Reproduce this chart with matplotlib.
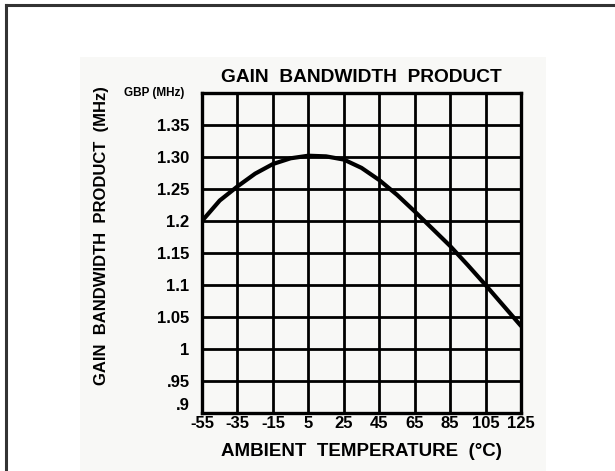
import numpy as np
import matplotlib.pyplot as plt
from matplotlib.lines import Line2D
from matplotlib.patches import Rectangle


temps = [-55, -45, -35, -25, -15, -5, 5, 15, 25, 35, 45, 55, 65, 75, 85, 95, 105, 115, 125]
gbp = [1.200, 1.232, 1.254, 1.274, 1.289, 1.298, 1.302, 1.301, 1.296, 1.283,
       1.264, 1.241, 1.215, 1.188, 1.161, 1.131, 1.100, 1.068, 1.036]

x_ticks = [-55, -35, -15, 5, 25, 45, 65, 85, 105, 125]
y_ticks = [0.90, 0.95, 1.00, 1.05, 1.10, 1.15, 1.20, 1.25, 1.30, 1.35, 1.40]
y_tick_labels = [".9", ".95", "1", "1.05", "1.1", "1.15", "1.2", "1.25", "1.30", "1.35", ""]

title = "GAIN  BANDWIDTH  PRODUCT"
x_label = "AMBIENT  TEMPERATURE  (°C)"
y_label = "GAIN  BANDWIDTH  PRODUCT  (MHz)"
unit_label = "GBP (MHz)"

plt.rcParams["font.family"] = ["Liberation Sans", "DejaVu Sans"]
plt.rcParams["font.weight"] = "bold"

W, H = 615, 471
fig = plt.figure(figsize=(W / 100, H / 100), dpi=100)
fig.patch.set_facecolor("white")

bg = "#f8f8f6"
# grey panel behind the chart
fig.add_artist(Rectangle((80 / W, 0), (546 - 80) / W, 1 - 57 / H,
                         transform=fig.transFigure, facecolor=bg, edgecolor="none", zorder=0))
# outer frame (top and left edges only are in view)
fig.add_artist(Line2D([6 / W, 1], [1 - 5 / H, 1 - 5 / H], transform=fig.transFigure,
                      color="#333333", lw=2.2))
fig.add_artist(Line2D([6 / W, 6 / W], [0, 1 - 5 / H], transform=fig.transFigure,
                      color="#333333", lw=2.2))

ax = fig.add_axes([202 / W, 1 - 413 / H, (521 - 202) / W, (413 - 93) / H])
ax.set_facecolor(bg)

ax.plot(temps, gbp, color="black", lw=3.0, solid_capstyle="round", zorder=3)

ax.set_xlim(-55, 125)
ax.set_ylim(0.90, 1.40)
ax.set_xticks(x_ticks)
ax.set_yticks(y_ticks)
ax.set_xticklabels([str(t) for t in x_ticks], fontsize=12, fontweight="bold")
ax.set_yticklabels(y_tick_labels, fontsize=12, fontweight="bold")
ax.get_yticklabels()[0].set_verticalalignment("bottom")
ax.tick_params(length=0, pad=2)
ax.tick_params(axis="y", pad=9)
ax.grid(True, color="black", lw=2.0)
for s in ax.spines.values():
    s.set_linewidth(2.4)

ax.set_title(title, fontsize=13.8, fontweight="bold", pad=8)
ax.set_xlabel(x_label, fontsize=13.5, fontweight="bold", labelpad=9)

fig.text(102 / W, 1 - 236 / H, y_label, rotation=90, ha="center", va="center",
         fontsize=12, fontweight="bold")
fig.text(154 / W, 1 - 93 / H, unit_label, ha="center", va="center",
         fontsize=8.5, fontweight="bold")

fig.savefig("out.png", dpi=100)
